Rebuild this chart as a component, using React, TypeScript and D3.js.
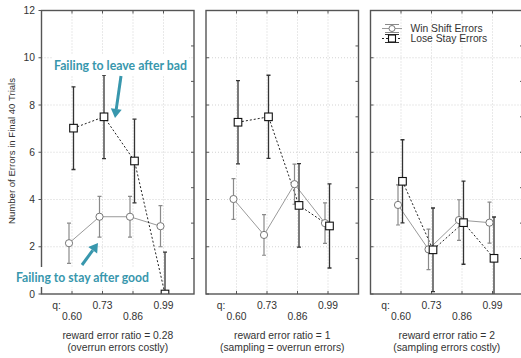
import * as d3 from "d3";
import React from "react";

// q levels on the x axis
const qLabels = ["0.60", "0.73", "0.86", "0.99"];
const ratioLabels = ["reward error ratio = 0.28", "reward error ratio = 1", "reward error ratio = 2"];
const costLabels = ["(overrun errors costly)", "(sampling = overrun errors)", "(sampling errors costly)"];

// means and error half-widths, one row per panel
const winShift = [
  [2.15, 3.27, 3.27, 2.87],
  [4.02, 2.5, 4.65, 3.0],
  [3.77, 1.89, 3.13, 3.02],
];
const winShiftErr = [
  [0.85, 0.86, 0.86, 0.87],
  [0.86, 0.86, 0.85, 0.86],
  [0.85, 0.86, 0.86, 0.87],
];
const loseStay = [
  [7.02, 7.5, 5.63, 0],
  [7.27, 7.5, 3.75, 2.88],
  [4.77, 1.87, 3.02, 1.51],
];
const loseStayErr = [
  [1.75, 1.77, 1.77, 1.77],
  [1.76, 1.76, 1.77, 1.78],
  [1.76, 1.77, 1.76, 1.75],
];
const yTicks = [0, 2, 4, 6, 8, 10, 12];
const legendLabels = ["Win Shift Errors", "Lose Stay Errors"];

const top = 10.5;
const bottom = 294;
const panelW = 152.5;
const panelX = [41.5, 206, 370.5];
const teal = "#3897ad";
const font = "'Liberation Sans', Arial, sans-serif";

const y = d3.scaleLinear().domain([0, 12]).range([bottom, top]);

const Arrow = ({ x1, y1, x2, y2 }: { x1: number; y1: number; x2: number; y2: number }) => {
  const a = Math.atan2(y2 - y1, x2 - x1);
  const hl = 9, hw = 5.5;
  const bx = x2 - hl * Math.cos(a), by = y2 - hl * Math.sin(a);
  const nx = -Math.sin(a), ny = Math.cos(a);
  const head = `M${x2},${y2}L${bx + nx * hw},${by + ny * hw}L${bx - nx * hw},${by - ny * hw}Z`;
  return (
    <g>
      <line x1={x1} y1={y1} x2={bx} y2={by} stroke={teal} strokeWidth={3} />
      <path d={head} fill={teal} />
    </g>
  );
};

const Panel = ({ i }: { i: number }) => {
  const left = panelX[i];
  const x = d3.scalePoint<string>().domain(qLabels).range([left, left + panelW]).padding(1);
  const cx = (q: string) => (x(q) as number) - 3;
  const sx = (q: string) => (x(q) as number) + 1.5;
  const ws = qLabels.map((q, k) => ({ q, v: winShift[i][k], e: winShiftErr[i][k] }));
  const ls = qLabels.map((q, k) => ({ q, v: loseStay[i][k], e: loseStayErr[i][k] }));
  const wsLine = d3.line<any>().x((d) => cx(d.q)).y((d) => y(d.v))(ws) as string;
  const lsLine = d3.line<any>().x((d) => sx(d.q)).y((d) => y(d.v))(ls) as string;
  const rightTicks = d3.range(1.5, 12, 1.5);
  const clipId = `clip${i}`;
  return (
    <g>
      <defs>
        <clipPath id={clipId}>
          <rect x={left} y={top} width={panelW} height={bottom - top} />
        </clipPath>
      </defs>
      {/* grid */}
      {yTicks.slice(1, -1).map((t) => (
        <line key={"h" + t} x1={left} x2={left + panelW} y1={y(t)} y2={y(t)} stroke="#c8c8c8" strokeWidth={0.8} strokeDasharray="1,2" />
      ))}
      {qLabels.map((q) => (
        <line key={"v" + q} x1={x(q)} x2={x(q)} y1={top} y2={bottom} stroke="#c8c8c8" strokeWidth={0.8} strokeDasharray="1,2" />
      ))}
      {/* ticks */}
      {qLabels.map((q) => (
        <g key={"t" + q} stroke="#555" strokeWidth={1}>
          <line x1={x(q)} x2={x(q)} y1={bottom} y2={bottom - 3} />
          <line x1={x(q)} x2={x(q)} y1={top} y2={top + 3} />
        </g>
      ))}
      {rightTicks.map((t) => (
        <line key={"r" + t} x1={left + panelW} x2={left + panelW - 3} y1={y(t)} y2={y(t)} stroke="#555" />
      ))}
      {yTicks.map((t) => (
        <line key={"l" + t} x1={left} x2={i === 0 ? left - 3 : left + 3} y1={y(t)} y2={y(t)} stroke="#555" />
      ))}
      <g clipPath={`url(#${clipId})`}>
        {/* lines */}
        <path d={wsLine} fill="none" stroke="#9a9a9a" strokeWidth={1} />
        <path d={lsLine} fill="none" stroke="#222" strokeWidth={1} strokeDasharray="2,2" />
        {/* error bars */}
        {ws.map((d) => (
          <g key={"we" + d.q} stroke="#8a8a8a" strokeWidth={1.2}>
            <line x1={cx(d.q)} x2={cx(d.q)} y1={y(d.v + d.e)} y2={y(d.v - d.e)} />
            <line x1={cx(d.q) - 2} x2={cx(d.q) + 2} y1={y(d.v + d.e)} y2={y(d.v + d.e)} />
            <line x1={cx(d.q) - 2} x2={cx(d.q) + 2} y1={y(d.v - d.e)} y2={y(d.v - d.e)} />
          </g>
        ))}
        {ls.map((d) => (
          <g key={"le" + d.q} stroke="#333" strokeWidth={1.3}>
            <line x1={sx(d.q)} x2={sx(d.q)} y1={y(d.v + d.e)} y2={y(d.v - d.e)} />
            <line x1={sx(d.q) - 2} x2={sx(d.q) + 2} y1={y(d.v + d.e)} y2={y(d.v + d.e)} />
            <line x1={sx(d.q) - 2} x2={sx(d.q) + 2} y1={y(d.v - d.e)} y2={y(d.v - d.e)} />
          </g>
        ))}
        {/* markers */}
        {ws.map((d) => (
          <circle key={"wc" + d.q} cx={cx(d.q)} cy={y(d.v)} r={3.6} fill="#fff" stroke="#777" strokeWidth={1} />
        ))}
        {ls.map((d) => (
          <rect key={"ls" + d.q} x={sx(d.q) - 3.8} y={y(d.v) - 3.8} width={7.6} height={7.6} fill="#fff" stroke="#111" strokeWidth={1.1} />
        ))}
      </g>
      <rect x={left} y={top} width={panelW} height={bottom - top} fill="none" stroke="#555" strokeWidth={1.4} />
      {/* x labels */}
      <g fontFamily={font} fontSize={10.3} fill="#333" textAnchor="middle">
        <text x={left + 15} y={309}>q:</text>
        {qLabels.map((q, k) => (
          <text key={"xl" + q} x={x(q)} y={k % 2 === 0 ? 320 : 309}>{q}</text>
        ))}
        <text x={left + panelW / 2} y={339}>{ratioLabels[i]}</text>
        <text x={left + panelW / 2} y={351}>{costLabels[i]}</text>
      </g>
    </g>
  );
};

const Legend = () => {
  const lx = 392;
  const rows = [28.5, 38.5];
  return (
    <g>
      {rows.map((ry, k) => (
        <g key={"lg" + k}>
          <g stroke={k === 0 ? "#8a8a8a" : "#333"} strokeWidth={1}>
            <line x1={lx - 7} x2={lx + 7} y1={ry - 4} y2={ry - 4} />
            <line x1={lx - 7} x2={lx + 7} y1={ry + 4} y2={ry + 4} />
          </g>
          <line x1={lx - 10} x2={lx + 10} y1={ry} y2={ry} stroke={k === 0 ? "#9a9a9a" : "#222"} strokeDasharray={k === 0 ? undefined : "2,2"} />
          {k === 0 ? (
            <circle cx={lx} cy={ry} r={3} fill="#fff" stroke="#777" />
          ) : (
            <rect x={lx - 3.5} y={ry - 3.5} width={7} height={7} fill="#fff" stroke="#111" strokeWidth={1.1} />
          )}
          <text x={410.5} y={ry + 3.5} fontFamily={font} fontSize={10.3} fill="#333">{legendLabels[k]}</text>
        </g>
      ))}
    </g>
  );
};

export default function App() {
  return (
    <svg width={521} height={358} style={{ position: "absolute", left: 0, top: 0, background: "#fff" }}>
      {[0, 1, 2].map((i) => (
        <Panel key={i} i={i} />
      ))}
      <Legend />
      {/* y axis labels */}
      <g fontFamily={font} fontSize={10.3} fill="#333" textAnchor="end">
        {yTicks.map((t) => (
          <text key={"yl" + t} x={35} y={y(t) + 3.7}>{t}</text>
        ))}
      </g>
      <text transform="translate(15,151) rotate(-90)" textAnchor="middle" fontFamily={font} fontSize={9.6} fill="#333">
        Number of Errors in Final 40 Trials
      </text>
      {/* annotations */}
      <rect x={52} y={55} width={137} height={20} fill="#fff" />
      <text x={54} y={70} fontFamily="Lato, 'Open Sans', sans-serif" fontWeight="bold" fontSize={13} fill={teal} textLength={133} lengthAdjust="spacingAndGlyphs">
        Failing to leave after bad
      </text>
      <rect x={14} y={267} width={137} height={20} fill="#fff" />
      <text x={16} y={282} fontFamily="Lato, 'Open Sans', sans-serif" fontWeight="bold" fontSize={13} fill={teal} textLength={133} lengthAdjust="spacingAndGlyphs">
        Failing to stay after good
      </text>
      <Arrow x1={121} y1={76} x2={115} y2={118} />
      <Arrow x1={82} y1={265} x2={98} y2={243} />
    </svg>
  );
}
